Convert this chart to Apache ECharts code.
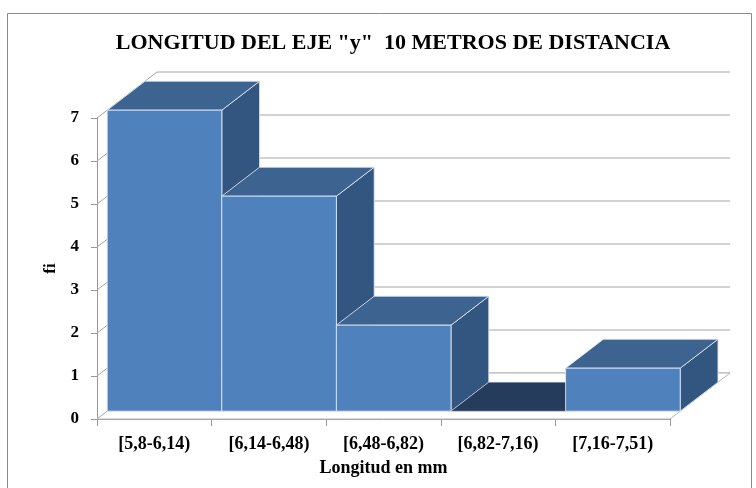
<!DOCTYPE html>
<html><head><meta charset="utf-8">
<script src="https://cdn.jsdelivr.net/npm/echarts@6/dist/echarts.min.js"></script>
<style>html,body{margin:0;padding:0;background:#fff}#c{width:756px;height:488px}</style>
</head><body><div id="c"></div>
<script>
const categories = ['[5,8-6,14)', '[6,14-6,48)', '[6,48-6,82)', '[6,82-7,16)', '[7,16-7,51)'];
const fi = [7, 5, 2, 0, 1];
const yTicks = [0, 1, 2, 3, 4, 5, 6, 7];
const titleText = 'LONGITUD DEL EJE "y"  10 METROS DE DISTANCIA';
const xName = 'Longitud en mm';
const yName = 'fi';

const FONT = '"Liberation Serif", "Times New Roman", serif';
const D = [60, -46];          // full depth offset (back wall)
const F0 = 0.17, F1 = 0.80;   // bar depth fractions
const GRID_COL = '#a6a6a6';
const EDGE = 'rgba(225,233,245,0.85)';

const chart = echarts.init(document.getElementById('c'), null, {renderer: 'canvas'});

function wallsItem(params, api) {
  const cs = params.coordSys;
  const v = api.value(0);
  const y = api.coord([0, v])[1];
  const x0 = cs.x, x1 = cs.x + cs.width;
  return {
    type: 'group',
    children: [
      {type: 'line', shape: {x1: x0, y1: y, x2: x0 + D[0], y2: y + D[1]}, style: {stroke: GRID_COL, lineWidth: 1}},
      {type: 'line', shape: {x1: x0 + D[0], y1: y + D[1], x2: x1 + D[0], y2: y + D[1]}, style: {stroke: GRID_COL, lineWidth: 1.2}}
    ]
  };
}

function floorItem(params, api) {
  const cs = params.coordSys;
  const yb = api.coord([0, 0])[1];
  const x0 = cs.x, x1 = cs.x + cs.width;
  return {
    type: 'polygon',
    shape: {points: [[x0, yb], [x1, yb], [x1 + D[0], yb + D[1]], [x0 + D[0], yb + D[1]]]},
    style: {fill: '#ffffff', stroke: '#b4b4b4', lineWidth: 1}
  };
}

function barItem(params, api) {
  const i = api.value(0), v = api.value(1);
  const top = api.coord([i, v]);
  const bot = api.coord([i, 0]);
  const w = api.size([1, 0])[0];
  const xl = top[0] - w / 2, xr = top[0] + w / 2;
  const a = [D[0] * F0, D[1] * F0], b = [D[0] * F1, D[1] * F1];
  const yt = top[1], yb = bot[1];
  const z = params.dataIndex * 4;
  if (v === 0) {
    return {
      type: 'polygon', z2: z,
      shape: {points: [[xl + a[0], yb + a[1]], [xr + a[0], yb + a[1]], [xr + b[0], yb + b[1]], [xl + b[0], yb + b[1]]]},
      style: {fill: '#263c5d', stroke: 'rgba(200,210,225,0.5)', lineWidth: 0.8}
    };
  }
  return {
    type: 'group',
    children: [
      {type: 'polygon', z2: z + 1,
        shape: {points: [[xr + a[0], yt + a[1]], [xr + b[0], yt + b[1]], [xr + b[0], yb + b[1]], [xr + a[0], yb + a[1]]]},
        style: {fill: '#335681', stroke: EDGE, lineWidth: 1}},
      {type: 'polygon', z2: z + 2,
        shape: {points: [[xl + a[0], yt + a[1]], [xr + a[0], yt + a[1]], [xr + b[0], yt + b[1]], [xl + b[0], yt + b[1]]]},
        style: {fill: '#3d6390', stroke: EDGE, lineWidth: 1}},
      {type: 'polygon', z2: z + 3,
        shape: {points: [[xl + a[0], yt + a[1]], [xr + a[0], yt + a[1]], [xr + a[0], yb + a[1]], [xl + a[0], yb + a[1]]]},
        style: {fill: '#4f81bd', stroke: EDGE, lineWidth: 1}}
    ]
  };
}

chart.setOption({
  animation: false,
  backgroundColor: '#ffffff',
  title: {
    text: titleText, left: 388, top: 27, textAlign: 'center',
    textStyle: {fontFamily: FONT, fontWeight: 'bold', fontSize: 22, color: '#000'}
  },
  graphic: [{
    type: 'rect', z: -1, silent: true,
    shape: {x: 7.5, y: 13.5, width: 744, height: 490},
    style: {fill: 'none', stroke: '#8a8a8a', lineWidth: 1}
  }],
  grid: {left: 97, top: 118, width: 573, height: 301, containLabel: false},
  xAxis: {
    type: 'category', data: categories,
    axisLine: {show: true, lineStyle: {color: '#999', width: 1}},
    axisTick: {show: true, length: 7, lineStyle: {color: '#999'}},
    axisLabel: {fontFamily: FONT, fontWeight: 'bold', fontSize: 18, color: '#000', margin: 16},
    splitLine: {show: false},
    name: xName, nameLocation: 'middle', nameGap: 40,
    nameTextStyle: {fontFamily: FONT, fontWeight: 'bold', fontSize: 18, color: '#000'}
  },
  yAxis: {
    type: 'value', min: 0, max: 7, interval: 1,
    axisLine: {show: true, lineStyle: {color: '#999', width: 1}},
    axisTick: {show: true, length: 6, lineStyle: {color: '#999'}},
    axisLabel: {fontFamily: FONT, fontWeight: 'bold', fontSize: 17, color: '#000', margin: 18},
    splitLine: {show: false},
    name: yName, nameLocation: 'middle', nameGap: 36, nameRotate: 90,
    nameTextStyle: {fontFamily: FONT, fontWeight: 'bold', fontSize: 17, color: '#000'}
  },
  series: [
    {type: 'custom', z: 1, silent: true, renderItem: wallsItem, data: yTicks.map(v => [v]), encode: {y: 0}},
    {type: 'custom', z: 2, silent: true, renderItem: floorItem, data: [[0]]},
    {type: 'custom', z: 3, renderItem: barItem, data: fi.map((v, i) => [i, v]), encode: {x: 0, y: 1}}
  ]
});
</script>
</body></html>
